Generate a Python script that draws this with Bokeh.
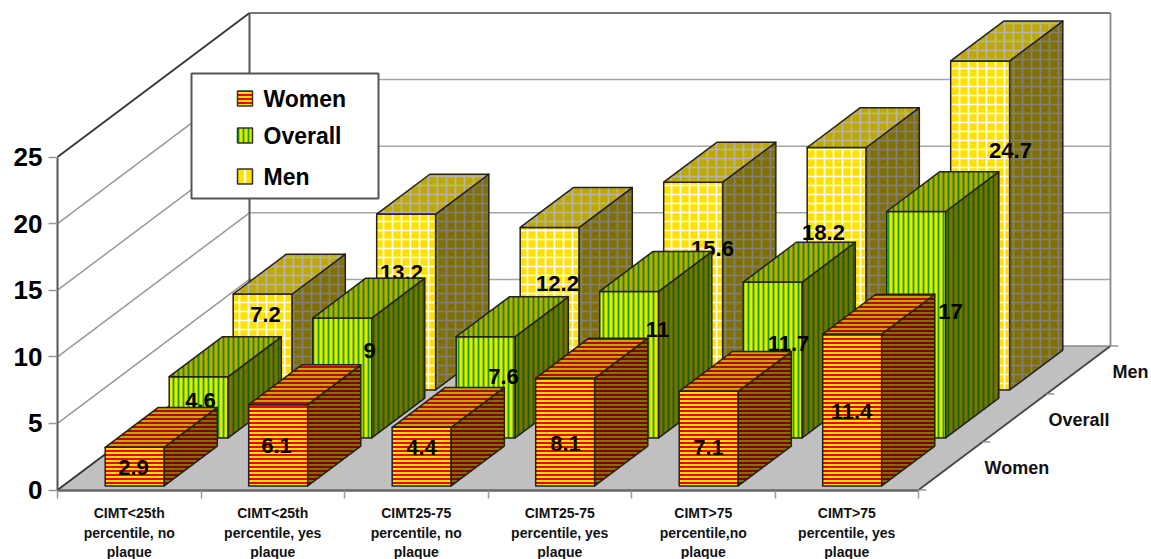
from bokeh.core.properties import value
from bokeh.embed import file_html
from bokeh.models import FixedTicker, Range1d
from bokeh.plotting import figure
from bokeh.resources import INLINE

# ---- chart data -------------------------------------------------------------
categories = [
    "CIMT<25th\npercentile, no\nplaque",
    "CIMT<25th\npercentile, yes\nplaque",
    "CIMT25-75\npercentile, no\nplaque",
    "CIMT25-75\npercentile, yes\nplaque",
    "CIMT>75\npercentile,no\nplaque",
    "CIMT>75\npercentile, yes\nplaque",
]
women_values = [2.9, 6.1, 4.4, 8.1, 7.1, 11.4]
overall_values = [4.6, 9, 7.6, 11, 11.7, 17]
men_values = [7.2, 13.2, 12.2, 15.6, 18.2, 24.7]
series_names = ["Women", "Overall", "Men"]
y_ticks = [0, 5, 10, 15, 20, 25]

# Value labels sit where they were hand-placed on the chart (page pixels).
women_label_px = [(133, 467), (276, 445), (421, 447), (565, 443), (708, 447), (851, 411)]
overall_label_px = [(200, 400), (369, 350), (503, 376), (657, 329), (788, 343), (950, 311)]
men_label_px = [(265, 314), (401, 272), (557, 283), (712, 248), (823, 232), (1010, 150)]

# ---- oblique projection -----------------------------------------------------
FONT = value("Liberation Sans")
WIDTH, HEIGHT = 1151, 559
PX_PER_CAT = 143.5
PX_PER_UNIT = 13.32
ORIGIN_X = 57     # page position of the front-left floor corner
ORIGIN_Y = 489.5
DEPTH_X = 64 / PX_PER_CAT   # category units per series step
DEPTH_Y = 48 / PX_PER_UNIT  # value units per series step
BAR_WIDTH = 59 / PX_PER_CAT
BAR_DEPTH = 0.83
N_DEPTH = len(series_names)
N_CAT = len(categories)


def project(cat, depth, val):
    return cat + depth * DEPTH_X, val + depth * DEPTH_Y


def from_px(px, py):
    return (px - ORIGIN_X) / PX_PER_CAT, (ORIGIN_Y - py) / PX_PER_UNIT


def polygon(*corners):
    pts = [project(*c) for c in corners]
    return [q[0] for q in pts], [q[1] for q in pts]


p = figure(
    width=WIDTH, height=HEIGHT, output_backend="svg", toolbar_location=None,
    x_range=Range1d(-ORIGIN_X / PX_PER_CAT, (WIDTH - ORIGIN_X) / PX_PER_CAT),
    y_range=Range1d((ORIGIN_Y - HEIGHT) / PX_PER_UNIT, ORIGIN_Y / PX_PER_UNIT),
    min_border=0, outline_line_color=None,
    background_fill_color="white", border_fill_color="white",
)
p.grid.visible = False

# ---- axes (pinned to the zero lines, inside the full-page frame) --------------
ya = p.yaxis[0]
ya.fixed_location = 0
ya.ticker = FixedTicker(ticks=y_ticks, minor_ticks=[])
ya.bounds = (0, 25)
ya.axis_line_color = "#555555"
ya.axis_line_width = 2
ya.major_tick_line_color = "#999999"
ya.major_tick_line_width = 1.5
ya.major_tick_out = 9
ya.major_tick_in = 0
ya.major_label_standoff = 6
ya.major_label_text_font = "Liberation Sans"
ya.major_label_text_font_style = "bold"
ya.major_label_text_font_size = "26px"
ya.major_label_text_color = "black"

xa = p.xaxis[0]
xa.fixed_location = 0
centres = [i + 0.5 for i in range(N_CAT)]
xa.ticker = FixedTicker(ticks=centres, minor_ticks=list(range(N_CAT + 1)))
xa.major_label_overrides = dict(zip(centres, categories))
xa.bounds = (0, N_CAT)
xa.axis_line_color = "#666666"
xa.axis_line_width = 2.5
xa.major_tick_line_color = None
xa.major_tick_out = 0
xa.minor_tick_line_color = "#999999"
xa.minor_tick_line_width = 1.5
xa.minor_tick_out = 8
xa.minor_tick_in = 0
xa.major_label_standoff = 7
xa.major_label_text_font = "Liberation Sans"
xa.major_label_text_font_style = "bold"
xa.major_label_text_font_size = "14px"
xa.major_label_text_line_height = 1.22
xa.major_label_text_color = "#111111"
xa.major_label_orientation = "horizontal"

# ---- floor and walls --------------------------------------------------------
fx, fy = polygon((0, 0, 0), (N_CAT, 0, 0), (N_CAT, N_DEPTH, 0), (0, N_DEPTH, 0))
p.patch(fx, fy, fill_color="#C0C0C0", line_color=None)


def edge(a, b, color, width):
    (x0, y0), (x1, y1) = project(*a), project(*b)
    p.line([x0, x1], [y0, y1], line_color=color, line_width=width)


for tick in y_ticks[1:-1]:
    edge((0, 0, tick), (0, N_DEPTH, tick), "#999999", 1.5)
    edge((0, N_DEPTH, tick), (N_CAT, N_DEPTH, tick), "#A6A6A6", 1.5)

edge((0, 0, 25), (0, N_DEPTH, 25), "#333333", 1.8)
edge((0, N_DEPTH, 25), (N_CAT, N_DEPTH, 25), "#777777", 1.8)
edge((0, N_DEPTH, 0), (0, N_DEPTH, 25), "#555555", 2)
edge((N_CAT, N_DEPTH, 0), (N_CAT, N_DEPTH, 25), "#8A8A8A", 1.8)
edge((0, 0, 0), (0, N_DEPTH, 0), "#333333", 1.8)
edge((N_CAT, 0, 0), (N_CAT, N_DEPTH, 0), "#444444", 1.8)
edge((0, N_DEPTH, 0), (N_CAT, N_DEPTH, 0), "#8A8A8A", 1.5)

# Depth axis: short ticks along the floor edge with the series names beside it.
tick_len = 8 / PX_PER_CAT
for d in range(N_DEPTH + 1):
    x0, y0 = project(N_CAT, d, 0)
    p.line([x0, x0 + tick_len], [y0, y0], line_color="#999999", line_width=1.5)
name_x, name_y = [], []
for d in range(N_DEPTH):
    x0, y0 = project(N_CAT, d + 0.5, 0)
    name_x.append(x0 + 34 / PX_PER_CAT)
    name_y.append(y0 - 2 / PX_PER_UNIT)
p.text(name_x, name_y, text=series_names, text_font=FONT, text_font_style="bold",
       text_font_size="18px", text_align="left", text_baseline="middle", text_color="#111111")

# ---- bars -------------------------------------------------------------------
# Face colours: front / side / top for both the ground and the pattern.
styles = {
    "Women": dict(pattern="horizontal_line", scale=4, weight=2,
                  fill=("#FFE000", "#807000", "#BFA800"),
                  hatch=("#EE0000", "#800000", "#BF0000")),
    "Overall": dict(pattern="vertical_line", scale=5, weight=1.8,
                    fill=("#E6EA00", "#7C7000", "#BFA800"),
                    hatch=("#10A010", "#0E6400", "#0E8A0E")),
    "Men": dict(pattern="cross", scale=9, weight=1.7,
                fill=("#FFE000", "#807000", "#BFA800"),
                hatch=("#FFFFFF", "#808080", "#B4B4B4")),
}
series_values = {"Women": women_values, "Overall": overall_values, "Men": men_values}
series_labels = {"Women": women_label_px, "Overall": overall_label_px, "Men": men_label_px}

# Painted back to front so nearer bars hide the labels of those behind them.
for depth_index in reversed(range(N_DEPTH)):
    name = series_names[depth_index]
    st = styles[name]
    d0 = depth_index + (1 - BAR_DEPTH) / 2
    d1 = d0 + BAR_DEPTH
    for i, v in enumerate(series_values[name]):
        x0 = i + (1 - BAR_WIDTH) / 2
        x1 = x0 + BAR_WIDTH
        faces = [
            polygon((x0, d0, 0), (x1, d0, 0), (x1, d0, v), (x0, d0, v)),
            polygon((x1, d0, 0), (x1, d1, 0), (x1, d1, v), (x1, d0, v)),
            polygon((x0, d0, v), (x1, d0, v), (x1, d1, v), (x0, d1, v)),
        ]
        for k, (xs, ys) in enumerate(faces):
            p.patch(xs, ys, fill_color=st["fill"][k], hatch_pattern=st["pattern"],
                    hatch_color=st["hatch"][k], hatch_scale=st["scale"], hatch_weight=st["weight"],
                    line_color="#222222", line_width=1.5, line_join="round")
    lx, ly = zip(*[from_px(*q) for q in series_labels[name]])
    p.text(list(lx), list(ly), text=[f"{v:g}" for v in series_values[name]], text_font=FONT,
           text_font_style="bold", text_font_size="22px", text_align="center",
           text_baseline="middle", text_color="black")

# ---- key --------------------------------------------------------------------
bl, bb = from_px(191, 198)
br, bt = from_px(378, 73)
p.quad(left=[bl], right=[br], bottom=[bb], top=[bt], fill_color="white",
       line_color="#555555", line_width=2)
key_rows = [98, 135, 176]
for name, row in zip(series_names, key_rows):
    st = styles[name]
    sl, sb = from_px(237, row + 7.5)
    sr, st_y = from_px(252, row - 7.5)
    if name == "Men":
        p.quad(left=[sl], right=[sr], bottom=[sb], top=[st_y], fill_color="#FFE000",
               line_color="#333333", line_width=1.5)
        cx = (sl + sr) / 2
        p.line([cx, cx], [sb + 0.1, st_y - 0.1], line_color="white", line_width=2.5)
    else:
        p.quad(left=[sl], right=[sr], bottom=[sb], top=[st_y], fill_color=st["fill"][0],
               hatch_pattern=st["pattern"], hatch_color=st["hatch"][0], hatch_scale=st["scale"],
               hatch_weight=st["weight"], line_color="#333333", line_width=1.5)
    tx, ty = from_px(263, row)
    p.text([tx], [ty], text=[name], text_font=FONT, text_font_style="bold", text_font_size="23px",
           text_align="left", text_baseline="middle", text_color="black")

open("out.html", "w").write(file_html(p, INLINE))
